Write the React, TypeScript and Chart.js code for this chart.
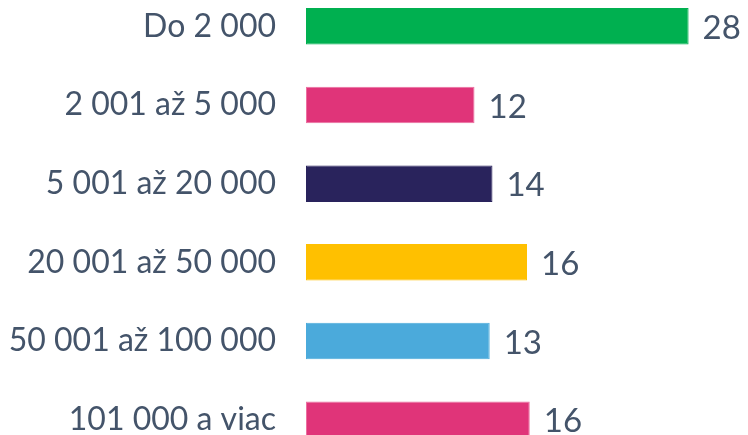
import React, { useEffect, useRef } from "react";
import { Chart, registerables } from "chart.js";

Chart.register(...registerables);

const categories = ["Do 2 000", "2 001 až 5 000", "5 001 až 20 000", "20 001 až 50 000", "50 001 až 100 000", "101 000 a viac"];
const values = [27.7, 12.2, 13.5, 16.0, 13.3, 16.2];
const valueLabels = ["28", "12", "14", "16", "13", "16"];
const barColors = ["#00B050", "#E03479", "#29235C", "#FFC000", "#4BAADB", "#E03479"];
const borderColors = ["#00B050", "#EC6FA0", "#29235C", "#FFC000", "#4BAADB", "#EC6FA0"];

const TEXT = "#44546A";
const FONT = "Lato, 'Noto Sans', sans-serif";

const valueLabelPlugin = {
  id: "valueLabels",
  afterDatasetsDraw(chart: any) {
    const ctx = chart.ctx;
    const meta = chart.getDatasetMeta(0);
    ctx.save();
    ctx.fillStyle = TEXT;
    ctx.font = `33px ${FONT}`;
    ctx.textAlign = "left";
    ctx.textBaseline = "middle";
    meta.data.forEach((bar: any, i: number) => {
      ctx.fillText(valueLabels[i], bar.x + 14, bar.y + 2);
    });
    ctx.restore();
  },
};

export default function App() {
  const ref = useRef<HTMLCanvasElement>(null);
  useEffect(() => {
    const chart = new Chart(ref.current!, {
      type: "bar",
      data: {
        labels: categories,
        datasets: [
          {
            data: values,
            backgroundColor: barColors,
            borderColor: borderColors,
            borderWidth: 1,
            borderSkipped: false,
            barPercentage: 0.465,
            categoryPercentage: 1,
          },
        ],
      },
      options: {
        indexAxis: "y",
        animation: false,
        responsive: true,
        maintainAspectRatio: false,
        layout: { padding: 0 },
        plugins: { legend: { display: false }, tooltip: { enabled: false } },
        scales: {
          x: { display: false, min: 0, max: 32 },
          y: {
            grid: { display: false, drawTicks: false },
            border: { display: false },
            ticks: { color: TEXT, font: { family: FONT, size: 32 }, padding: 30 },
            afterFit(scale: any) {
              scale.width = 306;
              scale.paddingTop = 0;
              scale.paddingBottom = 0;
            },
          },
        },
      },
      plugins: [valueLabelPlugin],
    });
    return () => chart.destroy();
  }, []);
  return (
    <div style={{ position: "fixed", left: 0, top: 0, width: 748, height: 435, overflow: "hidden", background: "#fff" }}>
      <div style={{ position: "absolute", left: 0, top: -13, width: 748, height: 472 }}>
        <canvas ref={ref} />
      </div>
    </div>
  );
}
